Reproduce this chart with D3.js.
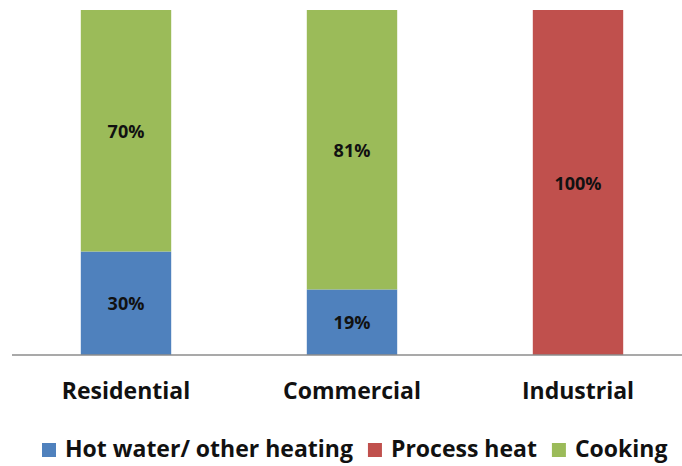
<!DOCTYPE html>
<html>
<head>
<meta charset="utf-8">
<script src="https://cdn.jsdelivr.net/npm/d3@7"></script>
<style>
  html, body { margin: 0; padding: 0; background: #fff; }
  svg { display: block; }
  text { font-family: "Open Sans", Lato, sans-serif; font-weight: 700; fill: #111; }
</style>
</head>
<body>
<svg id="chart" width="682" height="466"></svg>
<script>
// Share of end use by sector (percent)
const sectors = ["Residential", "Commercial", "Industrial"];
const seriesNames = ["Hot water/ other heating", "Process heat", "Cooking"];
const hotWater = [30, 19, 0];
const processHeat = [0, 0, 100];
const cooking = [70, 81, 0];
const colors = ["#4F81BD", "#C0504D", "#9BBB59"];

const svg = d3.select("#chart");
const margin = { top: 10, bottom: 111, left: 13, right: -9 };
const W = 682, H = 466;

const x = d3.scaleBand()
  .domain(sectors)
  .range([margin.left, W - margin.right])
  .paddingInner(0.6)
  .paddingOuter(0.3);

const y = d3.scaleLinear()
  .domain([0, 100])
  .range([H - margin.bottom, margin.top]);

const rows = sectors.map((s, i) => ({
  sector: s,
  "Hot water/ other heating": hotWater[i],
  "Process heat": processHeat[i],
  "Cooking": cooking[i]
}));

const stacked = d3.stack().keys(seriesNames)(rows);

const layers = svg.append("g")
  .selectAll("g")
  .data(stacked)
  .join("g")
  .attr("fill", (d, i) => colors[i]);

layers.selectAll("rect")
  .data(d => d.filter(p => p[1] - p[0] > 0))
  .join("rect")
  .attr("x", d => x(d.data.sector))
  .attr("width", x.bandwidth())
  .attr("y", d => y(d[1]))
  .attr("height", d => y(d[0]) - y(d[1]));

// value labels centred in each segment
layers.selectAll("text")
  .data(d => d.filter(p => p[1] - p[0] > 0))
  .join("text")
  .attr("x", d => x(d.data.sector) + x.bandwidth() / 2)
  .attr("y", d => (y(d[0]) + y(d[1])) / 2)
  .attr("text-anchor", "middle")
  .attr("dominant-baseline", "central")
  .attr("font-size", 18)
  .text(d => (d[1] - d[0]) + "%");

// category axis
const xAxis = svg.append("g")
  .attr("transform", `translate(0,${y(0)})`)
  .call(d3.axisBottom(x).tickSize(0).tickPadding(0).tickSizeOuter(0));
xAxis.select(".domain")
  .attr("stroke", "#8c8c8c")
  .attr("stroke-width", 1.5)
  .attr("d", `M12,0H${W}`);
xAxis.selectAll(".tick text")
  .attr("font-size", 23)
  .attr("font-family", "'Open Sans', sans-serif")
  .attr("font-weight", 700)
  .attr("fill", "#111")
  .attr("dy", null)
  .attr("y", 44);

// legend laid out left to right
const legend = svg.append("g").attr("transform", "translate(42,457)");
let lx = 0;
seriesNames.forEach((name, i) => {
  const g = legend.append("g").attr("transform", `translate(${lx},0)`);
  g.append("rect")
    .attr("x", 0).attr("y", -14)
    .attr("width", 14).attr("height", 14)
    .attr("fill", colors[i]);
  const t = g.append("text")
    .attr("x", 23).attr("y", 0)
    .attr("font-size", 23)
    .text(name);
  lx += 23 + t.node().getComputedTextLength() + 15;
});
</script>
</body>
</html>
